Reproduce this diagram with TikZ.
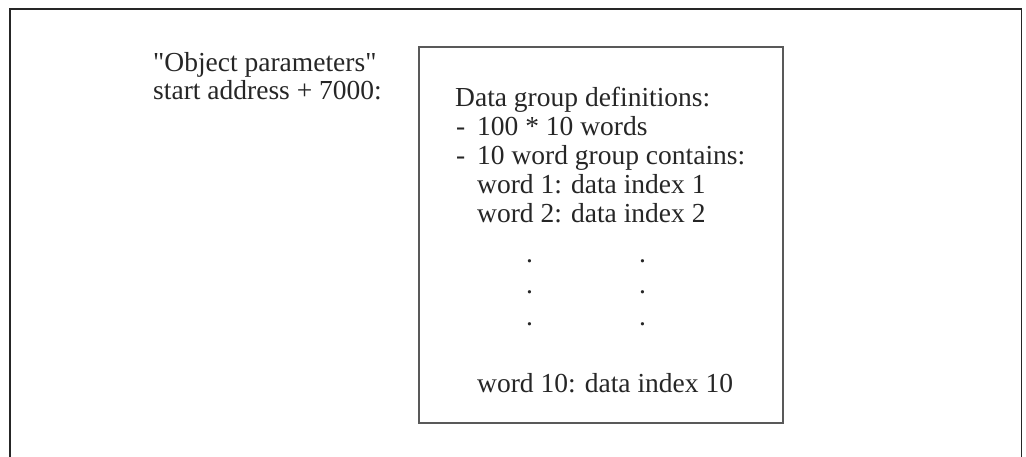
\documentclass[tikz,border=0pt]{standalone}
\usepackage{fontspec}
\setmainfont{Liberation Serif}[Ligatures=TeXOff]
\begin{document}
\begin{tikzpicture}[x=1pt,y=-1pt,
  txt/.style={anchor=base west,inner sep=0pt,font=\fontsize{27.5}{30}\selectfont,text=black!85},
  frameline/.style={line width=1.8pt,draw=black!85},
  boxline/.style={line width=1.3pt,draw=black!65}]
\useasboundingbox (0,0) rectangle (1026,457);
% open outer frame
\coordinate (fbl) at (10,457);
\coordinate (ftl) at (10,9);
\coordinate (ftr) at (1021.5,9);
\coordinate (fbr) at (1021.5,457);
\draw[frameline] (fbl) -- (ftl) -- (ftr) -- (fbr);
% label on the left
\node[txt] (lab1) at (153,72) {"Object parameters"};
\node[txt] (lab2) at (153,100) {start address + 7000:};
% parameter block
\node[boxline,draw,minimum width=364pt,minimum height=376pt,inner sep=0pt] (box) at (601,235) {};
\node[txt] (l1) at (455,107) {Data group definitions:};
\node[txt] (l2) at (456,136) {-};
\node[txt] (l2b) at (477,136) {100 * 10 words};
\node[txt] (l3) at (456,165) {-};
\node[txt] (l3b) at (477,165) {10 word group contains:};
\node[txt] (l4) at (477,194) {word 1: data index 1};
\node[txt] (l5) at (477,223) {word 2: data index 2};
\foreach \y/\n in {263/a,294/b,325/c}{
  \node[txt] (dl\n) at (526,\y) {.};
  \node[txt] (dr\n) at (639,\y) {.};
}
\node[txt] (l6) at (477,392) {word 10: data index 10};
\end{tikzpicture}
\end{document}
